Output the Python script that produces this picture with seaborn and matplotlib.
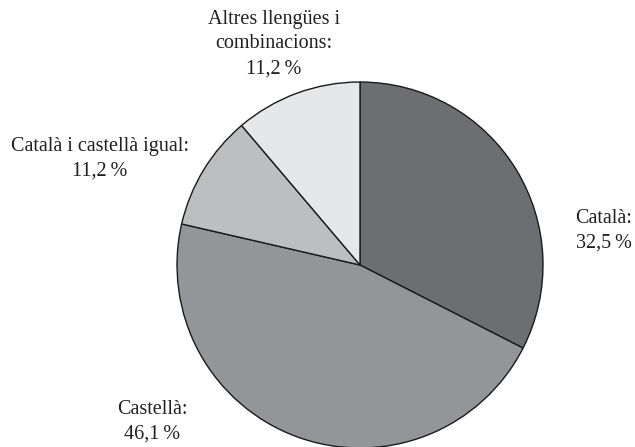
import matplotlib
matplotlib.use("Agg")
import matplotlib.pyplot as plt
import seaborn as sns

# Slice shares measured from the wedge angles (labels as printed in the source)
categories = ["Català", "Castellà", "Català i castellà igual", "Altres llengües i combinacions"]
shares = [32.5, 46.1, 10.2, 11.2]
label_texts = [
    "Català:\n32,5\u2009%",
    "Castellà:\n46,1\u2009%",
    "Català i castellà igual:\n11,2\u2009%",
    "Altres llengües i\ncombinacions:\n11,2\u2009%",
]
colors = ["#6d6e71", "#939598", "#bcbec0", "#e6e7e8"]

sns.set_theme(style="white")
plt.rcParams["font.family"] = ["Liberation Serif", "DejaVu Serif"]

W, H = 635, 447
fig = plt.figure(figsize=(W / 100, H / 100), dpi=100)
ax = fig.add_axes([0, 0, 1, 1])

ax.pie(shares, colors=colors, startangle=90, counterclock=False,
       center=(360, H - 265), radius=183, frame=True,
       wedgeprops={"edgecolor": "#1a1a1a", "linewidth": 1.0})
ax.set_xlim(0, W)
ax.set_ylim(0, H)
ax.set_aspect("auto")
ax.axis("off")

label_pos = [(604, 231), (152, 422), (100, 159), (274, 44)]
for txt, (x, y) in zip(label_texts, label_pos):
    ax.text(x, H - y, txt, ha="center", va="center", multialignment="center",
            fontsize=14.5, color="#231f20", linespacing=1.4)

fig.savefig("out.png", dpi=100, facecolor="white")
